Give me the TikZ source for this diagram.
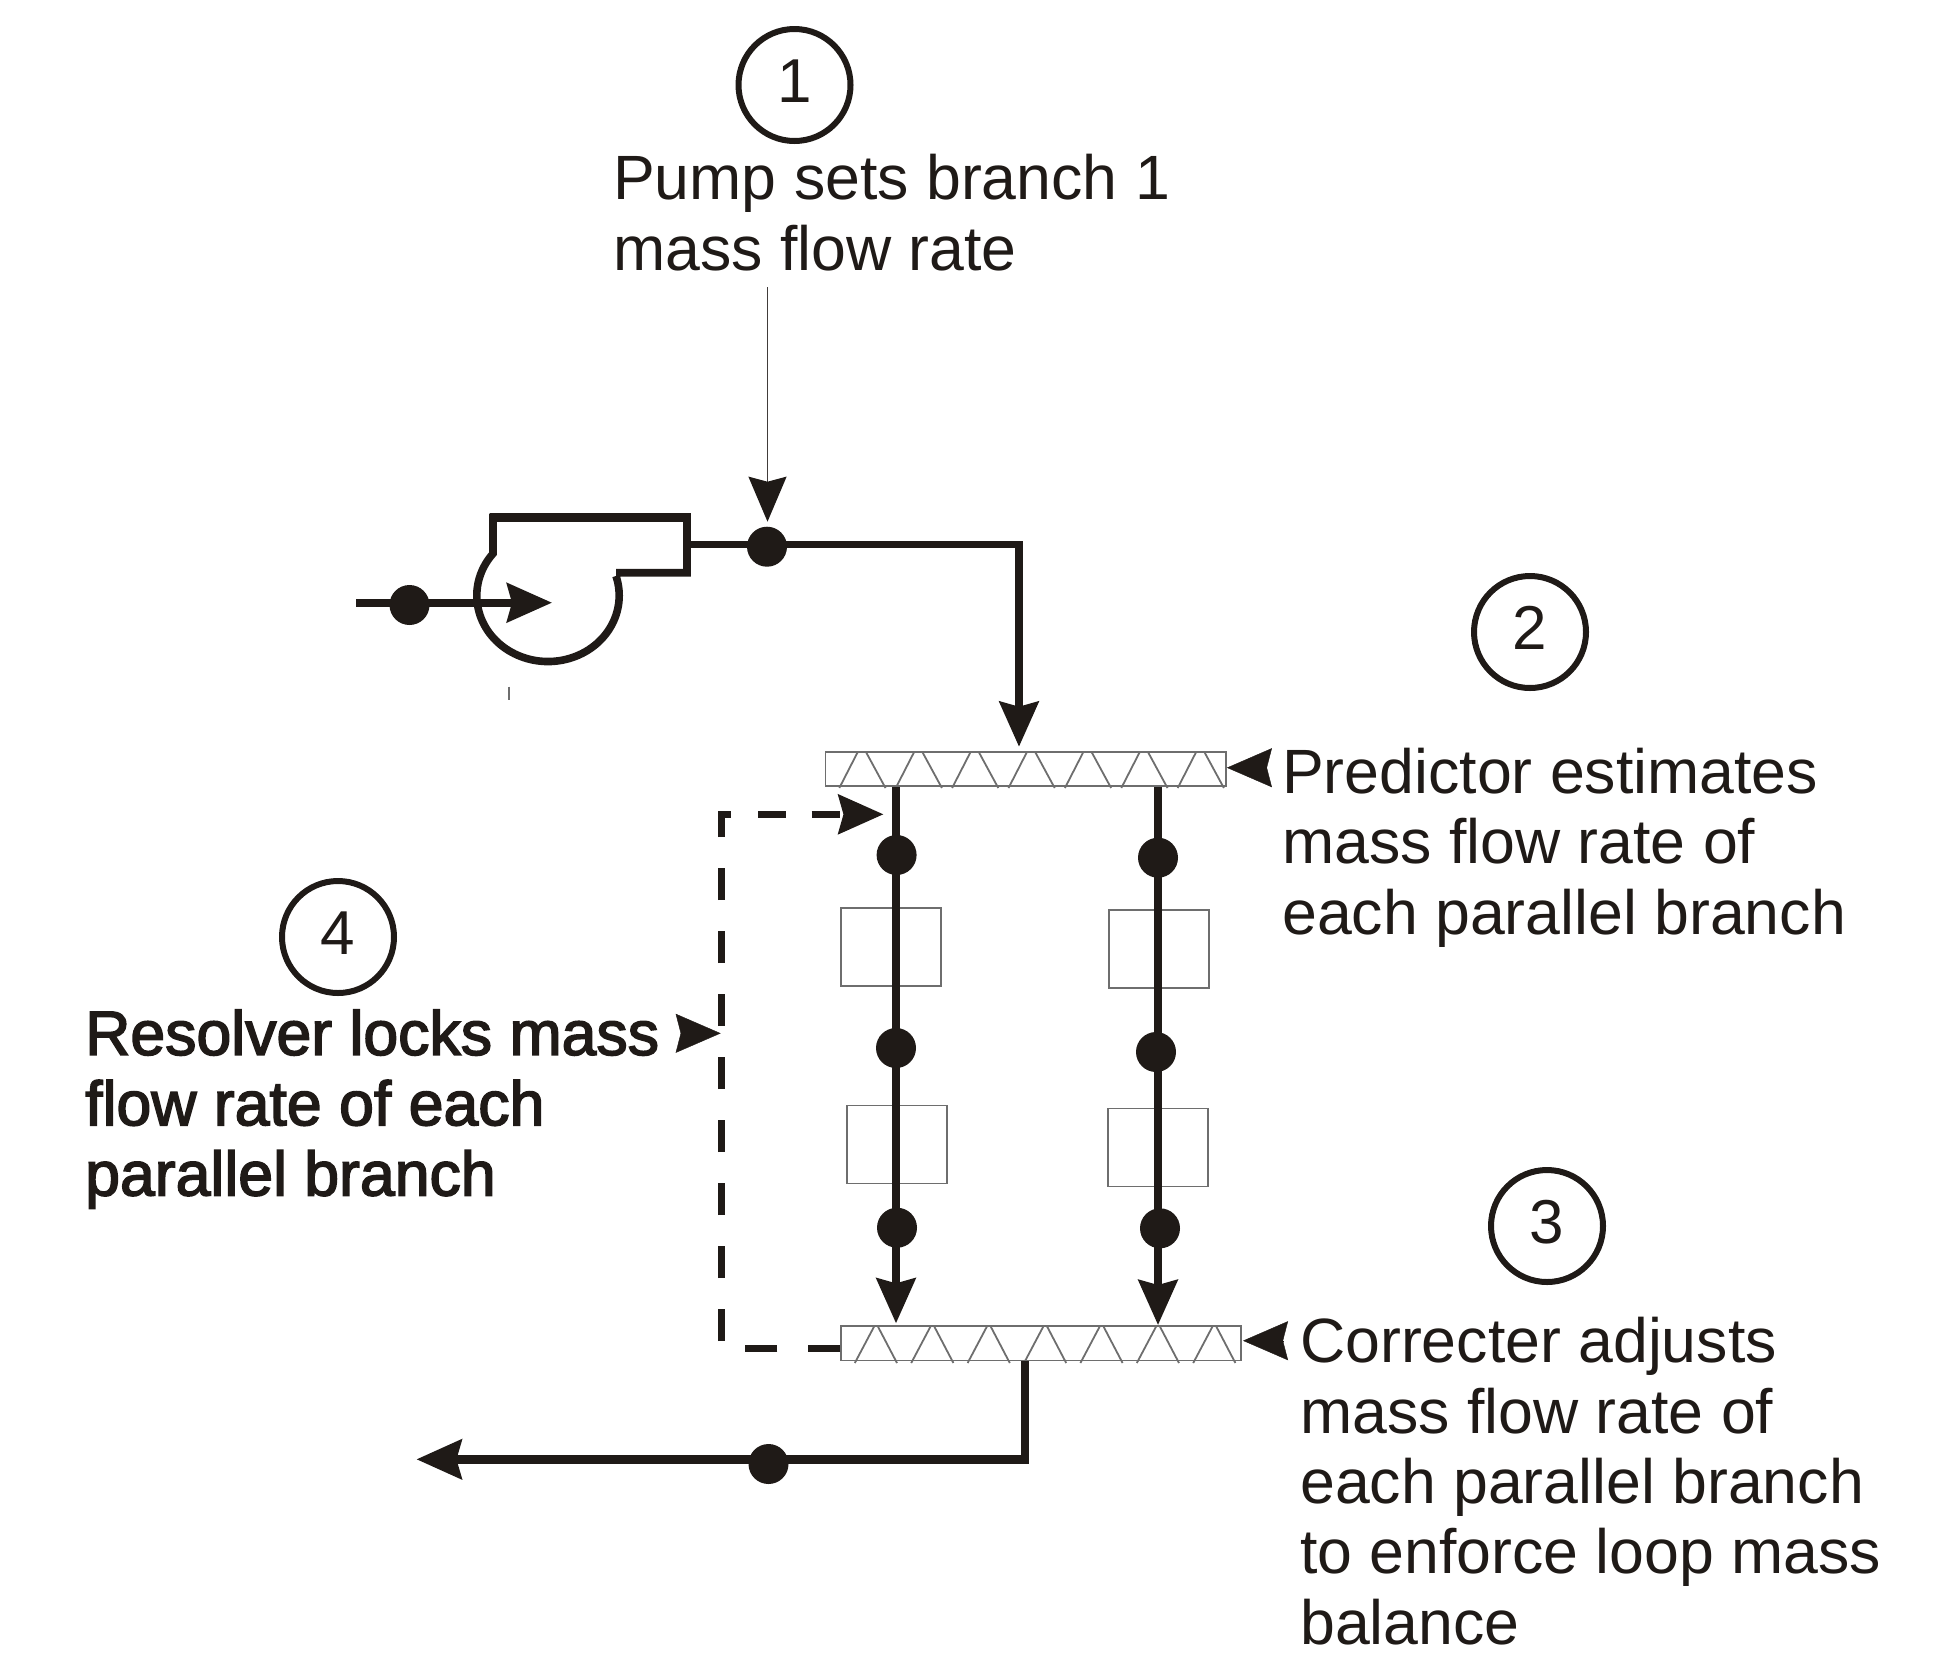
\documentclass[tikz,border=0pt]{standalone}
\usepackage{fontspec}
\usetikzlibrary{arrows.meta,positioning}
\setmainfont{Liberation Sans}
\newfontfamily\heavyfont[FakeBold=2.5]{Liberation Sans}
\definecolor{ink}{HTML}{1F1A17}
\definecolor{thinline}{HTML}{6E6E6E}
\tikzset{
  bighead/.style={-{Stealth[length=45pt,width=39pt,inset=5pt]}},
  pipe/.style={line width=7.6pt,draw=ink},
  dot/.style={circle,fill=ink,minimum size=40pt,inner sep=0pt},
  numcircle/.style={circle,draw=ink,line width=6pt,minimum size=112pt,inner sep=0pt,text=ink,text height=44pt,text depth=10pt,font=\fontsize{62}{70}\selectfont},
  notetext/.style={anchor=base west,align=left,inner sep=0pt,text=ink,font=\fontsize{62.6}{70.3}\selectfont},
  manifold/.style={draw=thinline,line width=1.8pt,inner sep=0pt,minimum height=34.3pt},
  compbox/.style={draw=thinline,line width=1.8pt,inner sep=0pt,minimum width=100pt,minimum height=78pt},
}
\begin{document}
\begin{tikzpicture}[x=1pt,y=-1pt]
    \useasboundingbox (0,0) rectangle (1940,1666);
    % 番号
    \node[numcircle] (num1) at (794.5,85) {1};
    \node[numcircle] (num2) at (1530,632) {2};
    \node[numcircle] (num3) at (1547,1226) {3};
    \node[numcircle] (num4) at (338,937) {4};
    % 説明
    \node[notetext] (pumptext) at (613,270) {Pump sets branch 1\\mass flow rate};
    \node[notetext] (predtext) at (1282,934) {Predictor estimates\\mass flow rate of\\each parallel branch};
    \node[notetext] (corrtext) at (1300,1644) {Correcter adjusts\\mass flow rate of\\each parallel branch\\to enforce loop mass\\balance};
    \node[notetext,font=\fontsize{62.6}{70.3}\heavyfont] (restext) at (85,1195.5) {Resolver locks mass\\flow rate of each\\parallel branch};
    % 機器
    \node[manifold,minimum width=400.5pt] (bar1) at (1025.75,768.85) {};
    \node[manifold,minimum width=399.7pt] (bar2) at (1041.15,1343.35) {};
    \foreach \i in {0,...,6}{
        \draw[thinline,line width=1.8pt] ({839.3+56.4*\i},788) -- ({857.9+56.4*\i},751.7);
        \draw[thinline,line width=1.8pt] ({865.8+56.4*\i},751.7) -- ({885.5+56.4*\i},788);
        \draw[thinline,line width=1.8pt] ({854.8+56.4*\i},1363) -- ({874+56.4*\i},1326.7);
        \draw[thinline,line width=1.8pt] ({878+56.4*\i},1326.7) -- ({897+56.4*\i},1363);
    }
    \node[compbox] (boxA1) at (890.7,946.8) {};
    \node[compbox] (boxB1) at (1159,949) {};
    \node[compbox] (boxA2) at (896.8,1144.5) {};
    \node[compbox] (boxB2) at (1158.2,1147.4) {};
    % ポンプ
    \draw[pipe] (616,576) arc[start angle=17.2,end angle=-219.4,x radius=71.2pt,y radius=66pt]
        -- (493,517.3) -- (687,517.3) -- (687,572.7) -- (616,572.7);
    \draw[pipe,line width=9pt] (489.5,517.3) -- (690.5,517.3);
    \draw[thinline,line width=1.5pt] (509,686.7) -- (509,700);
    \node[dot] (inletdot) at (409.5,605) {};
    \node[dot] (pumpdot) at (767,546.7) {};
    \node[dot] (dotA1) at (896.6,855) {};
    \node[dot] (dotB1) at (1158,857.7) {};
    \node[dot] (dotA2) at (896,1048) {};
    \node[dot] (dotB2) at (1156,1052) {};
    \node[dot] (dotA3) at (897,1227.7) {};
    \node[dot] (dotB3) at (1160,1228.3) {};
    \node[dot] (outdot) at (768.5,1464) {};
    \coordinate (inletstart) at (356,602.7);
    \coordinate (inlettip) at (552,602.7);
    \coordinate (pumpout) at (687,544.3);
    \coordinate (corner1) at (1019,544.3);
    \coordinate (toptip) at (1019,746.7);
    \coordinate (tipA) at (896,1323.3);
    \coordinate (tipB) at (1158,1325);
    \coordinate (corner2) at (1025,1459.3);
    \coordinate (outtip) at (416.4,1459.3);
    % 配管
    \draw[pipe,bighead] (inletstart) -- (inlettip);
    \draw[pipe,bighead] (pumpout) -- (corner1) -- (toptip);
    \draw[pipe,bighead] (tipA |- bar1.south) -- (tipA);
    \draw[pipe,bighead] (tipB |- bar1.south) -- (tipB);
    \draw[pipe] (corner2 |- bar2.south) -- (corner2);
    \draw[pipe,line width=9pt,bighead] (1028.8,1459.3) -- (outtip);
    % 破線
    \coordinate (dashA) at (721.5,1348.3);
    \coordinate (dashB) at (721.5,814.3);
    \draw[pipe,dash pattern=on 32pt off 31pt] (bar2.west |- dashA) -- (dashA) -- (dashB) -- (731.3,814.3);
    \draw[pipe,dash pattern=on 28pt off 25.6pt,bighead] (758,814.3) -- (883.5,814.3);
    % 矢印
    \coordinate (thinstart) at (767.5,287);
    \coordinate (thintip) at (767.5,521.7);
    \coordinate (predstart) at (1266,767.7);
    \coordinate (corrstart) at (1283,1340.7);
    \coordinate (corrtip) at (1243,1340.7);
    \coordinate (resstart) at (680.7,1033.3);
    \coordinate (restip) at (720.7,1033.3);
    \draw[draw=ink!85,line width=1.8pt,-{Stealth[length=45pt,width=38pt,inset=5pt,color=ink]}] (thinstart) -- (thintip);
    \draw[draw=ink,bighead] (predstart) -- (bar1.east |- predstart);
    \draw[draw=ink,bighead] (corrstart) -- (corrtip);
    \draw[draw=ink,bighead] (resstart) -- (restip);
\end{tikzpicture}
\end{document}
